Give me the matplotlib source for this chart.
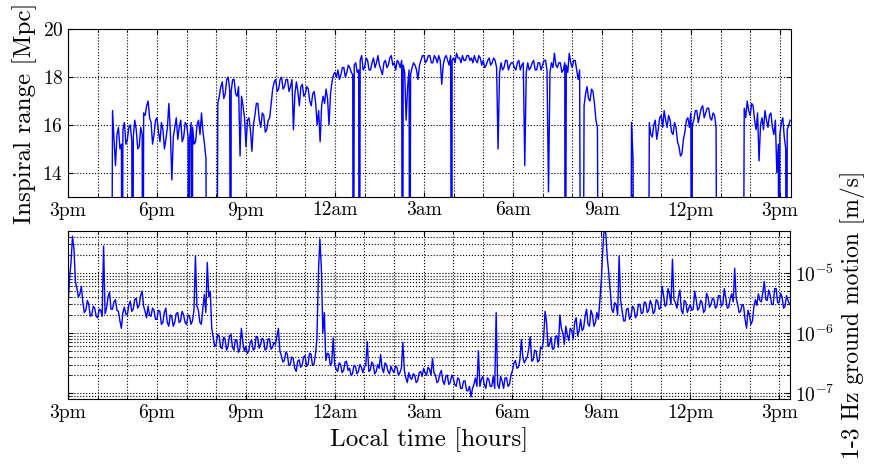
import numpy as np
import matplotlib
matplotlib.use("Agg")
import matplotlib.pyplot as plt
from matplotlib.ticker import MultipleLocator, LogLocator, NullFormatter

plt.rcParams["font.family"] = "cmr10"
plt.rcParams["mathtext.fontset"] = "cm"
plt.rcParams["axes.formatter.use_mathtext"] = True

# time axis: hours after 3pm local time
tick_hours = [0, 3, 6, 9, 12, 15, 18, 21, 24]
tick_names = ["3pm", "6pm", "9pm", "12am", "3am", "6am", "9am", "12pm", "3pm"]

# inspiral range, sampled every 0.05 h from 1.4 h (0 = detector not locked)
range_start = 1.4
range_step = 0.05
range_mpc = [
    0, 0, 16.6, 15.4, 14.3, 15.6, 15.9, 15.0, 15.2, 15.8, 16.1, 15.2,
    15.4, 15.9, 16.0, 15.3, 15.5, 16.2, 15.8, 15.0, 15.1, 15.9, 15.6, 16.5, 16.4, 16.8, 17.0, 16.3, 16.1, 15.2, 15.6, 16.2,
    16.3, 15.7, 15.3, 16.1, 15.8, 15.0, 15.4, 15.9, 16.9, 15.7, 13.7, 15.5, 15.9, 16.3, 15.4, 15.9, 16.2, 15.3, 15.5, 16.1,
    16.0, 15.5, 15.4, 16.1, 15.9, 15.2, 15.3, 16.0, 16.2, 15.6, 16.5, 15.7, 15.2, 14.6, 0, 0, 0, 0, 0, 0,
    0, 16.9, 17.2, 17.6, 17.8, 17.1, 17.3, 17.9, 18.0, 17.5, 17.4, 17.9, 17.9, 17.3, 17.2, 17.6, 14.7, 17.2, 16.8, 16.3,
    15.1, 16.2, 16.3, 15.8, 14.9, 16.0, 16.4, 16.9, 16.9, 16.2, 15.9, 16.5, 16.4, 15.7, 15.8, 16.2, 16.3, 16.9, 17.5, 17.8,
    17.9, 17.4, 17.5, 17.9, 18.0, 17.5, 17.6, 17.9, 17.9, 17.4, 17.6, 17.9, 15.8, 17.3, 17.8, 17.4, 16.8, 17.6, 17.7, 17.2,
    17.3, 17.6, 17.5, 17.0, 16.8, 17.3, 17.4, 16.9, 16.0, 16.6, 15.3, 16.8, 17.2, 16.9, 17.5, 17.1, 16.0, 17.3, 17.8, 18.1,
    18.2, 18.0, 18.3, 17.9, 18.1, 18.4, 18.4, 18.0, 18.2, 18.5, 18.4, 18.2, 18.1, 18.5, 18.6, 18.2, 18.3, 18.7, 18.9, 18.3,
    18.4, 18.8, 18.7, 18.3, 18.3, 18.6, 18.8, 18.4, 18.6, 18.9, 18.5, 18.3, 18.1, 18.6, 18.7, 18.4, 18.5, 18.8, 18.9, 18.5,
    18.6, 18.3, 18.7, 18.6, 18.4, 18.7, 18.5, 18.2, 16.2, 17.6, 18.3, 18.1, 18.4, 18.6, 18.5, 18.3, 17.9, 18.5, 18.7, 18.9,
    18.9, 18.6, 18.7, 18.9, 18.9, 18.6, 18.6, 18.9, 18.8, 18.6, 18.9, 18.7, 17.7, 18.5, 18.8, 18.9, 18.7, 18.5, 18.9, 18.7,
    18.8, 18.6, 19.0, 18.8, 18.8, 18.6, 18.9, 18.7, 18.7, 18.9, 18.9, 18.7, 18.8, 18.6, 18.9, 18.7, 18.6, 18.9, 18.8, 18.5,
    18.7, 18.4, 18.5, 18.7, 18.8, 18.5, 18.6, 18.8, 18.7, 18.4, 15.0, 18.2, 18.6, 18.3, 18.4, 18.7, 18.7, 18.3, 18.5, 18.6,
    18.6, 18.4, 18.3, 18.6, 18.7, 18.3, 18.5, 18.6, 14.3, 18.2, 18.6, 18.3, 18.4, 18.6, 18.7, 18.3, 18.3, 18.6, 18.6, 18.3,
    18.5, 18.7, 18.7, 18.3, 13.2, 18.2, 18.6, 18.4, 19.0, 18.5, 18.4, 18.6, 18.6, 18.2, 18.3, 18.6, 18.5, 18.2, 19.0, 18.6,
    18.4, 18.7, 18.7, 18.3, 17.9, 18.3, 0, 0, 16.8, 17.3, 17.6, 17.1, 17.0, 17.5, 17.4, 16.9, 16.2, 15.9, 0, 0,
    0, 0, 0, 0, 0, 0, 0, 0, 0, 0, 0, 0, 0, 0, 0, 0, 0, 0, 0, 0,
    16.1, 14.6, 0, 0, 0, 0, 0, 0, 0, 0, 0, 0, 16.1, 15.6, 15.5, 16.0, 16.2, 15.4, 15.8, 16.3,
    16.4, 15.9, 16.6, 16.2, 15.9, 16.4, 16.2, 15.7, 15.6, 16.1, 15.9, 15.3, 15.1, 14.7, 14.8, 15.4, 15.7, 16.2, 16.3, 15.9,
    16.5, 16.0, 16.2, 16.6, 16.6, 16.1, 16.4, 16.7, 16.8, 16.3, 16.5, 16.7, 16.7, 16.3, 16.2, 16.5, 16.4, 15.9, 0, 0,
    0, 0, 0, 0, 0, 0, 0, 0, 0, 0, 0, 0, 0, 0, 0, 0, 16.7, 16.3, 17.0, 16.6,
    16.4, 16.9, 16.8, 16.2, 15.8, 16.5, 14.5, 16.0, 16.3, 15.8, 16.6, 16.2, 15.9, 16.4, 16.5, 15.9, 15.6, 16.2, 14.0, 15.2,
    15.6, 16.1, 16.3, 15.5, 15.0, 15.8, 16.0, 16.2,
]
# short lock losses between samples
lock_loss_hours = [1.82, 2.18, 2.52, 4.06, 4.19, 5.49, 9.62, 9.82, 11.28,
                   11.52, 12.94, 16.76, 21.03, 23.98, 24.22]

# 1-3 Hz ground motion [m/s], sampled every 0.05 h from 0 h
motion_start = 0.0
motion_step = 0.05
motion_ms = [
    3.0e-6, 8.0e-6, 1.5e-5, 4.1e-5, 2.5e-5, 7.0e-6, 5.5e-6, 4.0e-6, 4.5e-6, 6.0e-6,
    3.2e-6, 2.2e-6, 2.4e-6, 3.5e-6, 3.0e-6, 1.9e-6, 2.0e-6, 2.8e-6, 2.6e-6, 1.9e-6,
    1.8e-6, 2.5e-6, 2.4e-6, 1.9e-6, 2.8e-5, 2.1e-6, 2.6e-6, 4.0e-6, 4.8e-6, 2.5e-6,
    2.5e-6, 3.3e-6, 3.6e-6, 2.4e-6, 2.3e-6, 1.6e-6, 1.2e-6, 2.2e-6, 2.7e-6, 2.1e-6,
    2.0e-6, 2.9e-6, 3.4e-6, 2.3e-6, 2.5e-6, 3.6e-6, 3.8e-6, 2.6e-6, 2.9e-6, 4.2e-6,
    5.0e-6, 2.8e-6, 2.3e-6, 1.8e-6, 2.8e-6, 2.0e-6, 1.9e-6, 2.6e-6, 2.4e-6, 1.7e-6,
    1.7e-6, 2.4e-6, 2.3e-6, 1.4e-6, 1.5e-6, 2.2e-6, 2.6e-6, 1.5e-6, 1.3e-6, 2.0e-6,
    1.9e-6, 1.3e-6, 1.5e-6, 2.1e-6, 2.2e-6, 1.5e-6, 1.6e-6, 2.3e-6, 2.0e-6, 1.5e-6,
    1.4e-6, 2.0e-6, 1.9e-6, 1.4e-6, 1.6e-6, 2.4e-6, 1.9e-5, 2.8e-6, 2.4e-6, 1.5e-6,
    1.4e-6, 2.6e-6, 4.4e-6, 2.2e-6, 1.5e-5, 4.0e-6, 5.0e-6, 1.2e-6, 8.5e-7, 6.0e-7,
    6.5e-7, 9.5e-7, 9.0e-7, 5.8e-7, 5.5e-7, 8.5e-7, 8.0e-7, 5.2e-7, 6.0e-7, 9.0e-7,
    9.5e-7, 5.8e-7, 5.2e-7, 7.8e-7, 7.5e-7, 4.8e-7, 5.5e-7, 1.2e-6, 7.0e-7, 5.0e-7,
    6.0e-7, 4.6e-7, 5.0e-7, 7.2e-7, 7.5e-7, 5.2e-7, 5.5e-7, 8.8e-7, 8.5e-7, 5.6e-7,
    6.5e-7, 8.2e-7, 7.8e-7, 5.2e-7, 5.5e-7, 8.0e-7, 8.0e-7, 5.4e-7, 5.8e-7, 7.0e-7,
    6.5e-7, 9.0e-7, 1.2e-6, 5.0e-7, 4.2e-7, 3.3e-7, 3.5e-7, 4.8e-7, 4.5e-7, 2.9e-7,
    3.0e-7, 4.0e-7, 3.8e-7, 2.6e-7, 2.3e-7, 3.4e-7, 3.6e-7, 2.7e-7, 2.9e-7, 4.0e-7,
    4.2e-7, 2.8e-7, 3.0e-7, 4.6e-7, 4.5e-7, 2.9e-7, 3.0e-7, 4.4e-7, 8.0e-7, 1.0e-5,
    3.7e-5, 1.2e-5, 1.0e-6, 2.2e-6, 3.5e-7, 4.6e-7, 4.5e-7, 2.9e-7, 3.2e-7, 8.3e-7,
    3.0e-7, 2.5e-7, 2.3e-7, 3.2e-7, 3.0e-7, 2.2e-7, 2.4e-7, 3.3e-7, 3.4e-7, 2.4e-7,
    2.6e-7, 2.0e-7, 2.1e-7, 2.9e-7, 2.8e-7, 2.1e-7, 2.3e-7, 3.0e-7, 2.7e-7, 2.2e-7,
    2.7e-7, 3.0e-7, 7.2e-7, 2.3e-7, 2.4e-7, 3.3e-7, 3.0e-7, 2.1e-7, 2.3e-7, 3.0e-7,
    2.6e-7, 4.4e-7, 2.6e-7, 2.2e-7, 3.2e-7, 2.9e-7, 2.3e-7, 2.1e-7, 2.8e-7, 2.4e-7,
    2.2e-7, 2.8e-7, 2.7e-7, 2.0e-7, 2.2e-7, 2.6e-7, 7.0e-7, 2.4e-7, 1.8e-7, 1.5e-7,
    2.2e-7, 1.8e-7, 1.7e-7, 2.1e-7, 2.0e-7, 1.5e-7, 1.6e-7, 2.2e-7, 2.3e-7, 1.9e-7,
    2.6e-7, 2.2e-7, 2.0e-7, 2.7e-7, 2.5e-7, 2.0e-7, 3.8e-7, 2.2e-7, 2.0e-7, 1.5e-7,
    1.6e-7, 2.1e-7, 2.4e-7, 1.6e-7, 1.4e-7, 1.9e-7, 2.0e-7, 1.4e-7, 1.5e-7, 2.0e-7,
    1.8e-7, 1.4e-7, 1.3e-7, 1.8e-7, 1.7e-7, 1.2e-7, 1.2e-7, 1.6e-7, 1.6e-7, 1.1e-7,
    1.1e-7, 1.3e-7, 8.7e-8, 1.2e-7, 1.4e-7, 1.8e-7, 1.3e-7, 5.1e-7, 1.3e-7, 1.7e-7,
    1.9e-7, 1.4e-7, 1.2e-7, 1.8e-7, 1.7e-7, 1.3e-7, 1.3e-7, 1.9e-7, 1.2e-7, 2.2e-6,
    1.4e-7, 1.2e-7, 1.9e-7, 1.6e-7, 1.2e-7, 1.8e-7, 1.8e-7, 1.3e-7, 1.4e-7, 2.0e-7,
    2.4e-7, 3.2e-7, 3.5e-7, 2.6e-7, 2.7e-7, 3.6e-7, 7.8e-7, 4.0e-7, 3.2e-7, 3.6e-7,
    4.0e-7, 5.5e-7, 8.7e-7, 3.4e-7, 3.6e-7, 5.2e-7, 5.0e-7, 3.3e-7, 3.5e-7, 5.8e-7,
    5.5e-7, 8.0e-7, 2.3e-6, 1.5e-6, 6.0e-7, 6.5e-7, 8.5e-7, 5.4e-7, 5.5e-7, 8.8e-7,
    9.0e-7, 5.8e-7, 2.0e-6, 1.2e-6, 1.0e-6, 6.5e-7, 1.3e-6, 9.5e-7, 7.5e-7, 1.2e-6,
    1.1e-6, 8.0e-7, 1.5e-6, 1.8e-6, 9.0e-7, 1.1e-6, 1.7e-6, 1.1e-6, 1.2e-6, 1.9e-6,
    2.5e-6, 1.4e-6, 1.3e-6, 2.4e-6, 2.0e-6, 1.3e-6, 1.5e-6, 2.2e-6, 1.7e-6, 3.5e-6,
    8.0e-6, 2.5e-5, 6.0e-5, 4.5e-5, 1.8e-5, 1.0e-5, 5.0e-6, 2.5e-6, 2.2e-6, 3.2e-6,
    3.0e-6, 2.0e-6, 1.9e-5, 3.5e-6, 2.4e-6, 1.6e-6, 1.6e-6, 2.5e-6, 2.6e-6, 1.7e-6,
    1.9e-6, 2.8e-6, 2.6e-6, 1.8e-6, 2.0e-6, 3.0e-6, 3.0e-6, 2.1e-6, 2.2e-6, 3.3e-6,
    3.2e-6, 2.2e-6, 2.4e-6, 3.5e-6, 3.0e-6, 2.1e-6, 2.3e-6, 3.6e-6, 3.4e-6, 2.5e-6,
    2.6e-6, 6.0e-6, 4.2e-6, 2.8e-6, 3.0e-6, 5.5e-6, 4.5e-6, 3.0e-6, 1.7e-5, 3.6e-6,
    3.2e-6, 2.6e-6, 4.0e-6, 5.2e-6, 2.4e-6, 2.1e-6, 3.5e-6, 3.3e-6, 2.2e-6, 2.6e-6,
    3.0e-6, 2.4e-6, 2.5e-6, 5.0e-6, 3.6e-6, 2.4e-6, 2.6e-6, 3.5e-6, 3.2e-6, 2.2e-6,
    2.4e-6, 4.6e-6, 4.0e-6, 2.7e-6, 3.0e-6, 3.8e-6, 3.6e-6, 2.6e-6, 2.8e-6, 4.2e-6,
    4.2e-6, 2.8e-6, 3.0e-6, 5.5e-6, 3.8e-6, 2.6e-6, 2.7e-6, 3.8e-6, 4.5e-6, 3.3e-6,
    1.2e-5, 3.8e-6, 3.0e-6, 2.2e-6, 2.3e-6, 3.0e-6, 2.8e-6, 1.7e-6, 1.2e-6, 2.4e-6,
    2.0e-6, 1.4e-6, 1.6e-6, 2.8e-6, 3.6e-6, 2.9e-6, 4.5e-6, 3.5e-6, 3.3e-6, 4.8e-6,
    7.2e-6, 3.6e-6, 3.5e-6, 5.2e-6, 4.2e-6, 3.0e-6, 3.0e-6, 5.5e-6, 5.5e-6, 3.2e-6,
    3.2e-6, 4.6e-6, 4.0e-6, 2.6e-6, 2.8e-6, 4.2e-6, 3.5e-6, 3.0e-6,
]

range_hours = range_start + range_step * np.arange(len(range_mpc))
t = np.concatenate([range_hours, lock_loss_hours])
v = np.concatenate([range_mpc, np.zeros(len(lock_loss_hours))])
order = np.argsort(t)
motion_hours = motion_start + motion_step * np.arange(len(motion_ms))

fig = plt.figure(figsize=(8.69, 4.68), dpi=100)
ax1 = fig.add_axes([0.0783, 0.5797, 0.8317, 0.3577])
ax2 = fig.add_axes([0.0783, 0.1474, 0.8309, 0.3590])

grid_kw = dict(color="k", linestyle=":", linewidth=0.8)

ax1.plot(t[order], v[order], color="b", lw=1.0)
ax1.set_xlim(0, 24.37)
ax1.set_ylim(13, 20)
ax1.set_yticks([14, 16, 18, 20])
ax1.set_xticks(tick_hours, tick_names)
ax1.xaxis.set_minor_locator(MultipleLocator(1))
ax1.grid(True, which="both", axis="x", **grid_kw)
ax1.grid(True, which="major", axis="y", **grid_kw)
ax1.tick_params(which="both", direction="in", top=True, right=True, labelsize=14)
ax1.set_ylabel("Inspiral range [Mpc]", fontsize=18)

ax2.semilogy(motion_hours, motion_ms, color="b", lw=1.0)
ax2.set_xlim(0, 24.37)
ax2.set_ylim(8e-8, 5e-5)
ax2.set_xticks(tick_hours, tick_names)
ax2.xaxis.set_minor_locator(MultipleLocator(1))
ax2.set_yticks([1e-7, 1e-6, 1e-5], [r"$10^{-7}$", r"$10^{-6}$", r"$10^{-5}$"])
ax2.yaxis.set_minor_locator(LogLocator(subs=np.arange(2, 10)))
ax2.yaxis.set_minor_formatter(NullFormatter())
ax2.yaxis.tick_right()
ax2.yaxis.set_label_position("right")
ax2.grid(True, which="both", **grid_kw)
ax2.tick_params(which="both", direction="in", top=True, left=True, right=True, labelsize=14)
ax2.set_xlabel("Local time [hours]", fontsize=18)
ax2.set_ylabel("1-3 Hz ground motion [m/s]", fontsize=17)

fig.savefig("out.png", dpi=100)
